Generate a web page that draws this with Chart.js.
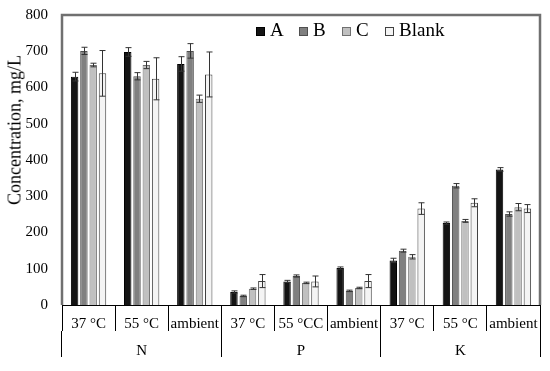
<!DOCTYPE html>
<html>
<head>
<meta charset="utf-8">
<script src="https://cdn.jsdelivr.net/npm/chart.js@4.4.1/dist/chart.umd.min.js"></script>
<style>
  body { margin: 0; background: #fff; }
  #wrap { position: relative; width: 550px; height: 371px; font-family: 'Liberation Serif', 'Times New Roman', serif; }
  #ytitle { position: absolute; left: 15px; top: 130px; transform: translate(-50%, -50%) rotate(-90deg); font-size: 18px; white-space: nowrap; color: #000; }
  #legend { position: absolute; left: 256px; top: 19px; display: flex; font-size: 19px; color: #000; }
  .lg-item { display: flex; align-items: center; width: 43px; flex-shrink: 0; }
  .lg-item:last-child { width: auto; }
  .lg-box { width: 7px; height: 7px; margin-right: 5px; margin-top: 2px; flex-shrink: 0; }
</style>
</head>
<body>
<div id="wrap">
  <canvas id="chart"></canvas>
  <div id="ytitle">Concentration, mg/L</div>
  <div id="legend"></div>
</div>
<script>
const categories = ['37 °C', '55 °C', 'ambient', '37 °C', '55 °CC', 'ambient', '37 °C', '55 °C', 'ambient'];
const groups = ['N', 'P', 'K'];

const valA = [630, 698, 665, 36, 65, 102, 123, 226, 374];
const valB = [701, 631, 701, 25, 80, 39, 150, 329, 251];
const valC = [662, 662, 569, 45, 61, 47, 133, 232, 270];
const valBlank = [639, 624, 636, 66, 65, 66, 266, 282, 266];

const errA = [12, 12, 20, 3, 3, 3, 6, 3, 5];
const errB = [10, 10, 20, 2, 3, 2, 4, 6, 6];
const errC = [5, 10, 10, 2, 2, 2, 6, 4, 10];
const errBlank = [63, 58, 62, 18, 15, 18, 16, 11, 11];

const series = [
  { label: 'A', data: valA, err: errA, fill: '#141414', line: '#000' },
  { label: 'B', data: valB, err: errB, fill: '#808080', line: '#505050' },
  { label: 'C', data: valC, err: errC, fill: '#c0c0c0', line: '#707070' },
  { label: 'Blank', data: valBlank, err: errBlank, fill: '#f4f4f4', line: '#404040' }
];

Chart.defaults.font.family = "'Liberation Serif', 'Times New Roman', serif";
Chart.defaults.color = '#000';

// error bars with caps
const errorBars = {
  id: 'errorBars',
  afterDatasetsDraw(chart) {
    const ctx = chart.ctx;
    const y = chart.scales.y;
    ctx.save();
    ctx.strokeStyle = '#333';
    ctx.lineWidth = 1;
    chart.data.datasets.forEach((ds, i) => {
      chart.getDatasetMeta(i).data.forEach((bar, j) => {
        const v = ds.data[j], e = ds.err[j];
        const top = y.getPixelForValue(v + e);
        const bot = y.getPixelForValue(v - e);
        const x = Math.round(bar.x) + 0.5;
        ctx.beginPath();
        ctx.moveTo(x, top); ctx.lineTo(x, bot);
        ctx.moveTo(x - 3, top); ctx.lineTo(x + 3, top);
        ctx.moveTo(x - 3, bot); ctx.lineTo(x + 3, bot);
        ctx.stroke();
      });
    });
    ctx.restore();
  }
};

// gray frame around the plot (left, top, right)
const frame = {
  id: 'frame',
  afterDraw(chart) {
    const a = chart.chartArea, ctx = chart.ctx;
    ctx.save();
    ctx.strokeStyle = '#707070';
    ctx.lineWidth = 2.5;
    ctx.beginPath();
    ctx.moveTo(a.left, a.bottom);
    ctx.lineTo(a.left, a.top);
    ctx.lineTo(a.right, a.top);
    ctx.lineTo(a.right, a.bottom);
    ctx.stroke();
    ctx.restore();
  }
};

const chart = new Chart(document.getElementById('chart'), {
  type: 'bar',
  data: {
    labels: categories,
    datasets: series.map(s => ({
      label: s.label,
      data: s.data,
      err: s.err,
      backgroundColor: s.fill,
      borderColor: s.line,
      borderWidth: 1,
      categoryPercentage: 0.7,
      barPercentage: 0.8
    }))
  },
  options: {
    responsive: true,
    maintainAspectRatio: false,
    animation: false,
    layout: { padding: { top: 4, right: 10, bottom: 14, left: 0 } },
    plugins: { legend: { display: false }, tooltip: { enabled: false } },
    scales: {
      y: {
        min: 0, max: 800,
        ticks: { stepSize: 100, padding: 6, font: { size: 15 } },
        grid: { display: false },
        border: { display: false },
        afterFit: axis => { axis.width = 62; }
      },
      x: {
        grid: { offset: true, drawOnChartArea: false, tickLength: 26, color: '#000', lineWidth: 1 },
        border: { display: true, color: '#000', width: 1 },
        ticks: { padding: -16, font: { size: 15 }, maxRotation: 0, autoSkip: false },
        afterFit: axis => { axis.height = 26; }
      },
      x2: {
        type: 'category',
        labels: groups,
        position: 'bottom',
        grid: { offset: true, drawOnChartArea: false, tickLength: 26, color: '#000', lineWidth: 1 },
        border: { display: false },
        ticks: { padding: -15, font: { size: 15 }, maxRotation: 0 },
        afterFit: axis => { axis.height = 26; }
      }
    }
  },
  plugins: [errorBars, frame]
});

const legend = document.getElementById('legend');
series.forEach(s => {
  legend.innerHTML += `<div class="lg-item"><span class="lg-box" style="background:${s.fill};border:1px solid ${s.line}"></span>${s.label}</div>`;
});
</script>
</body>
</html>
